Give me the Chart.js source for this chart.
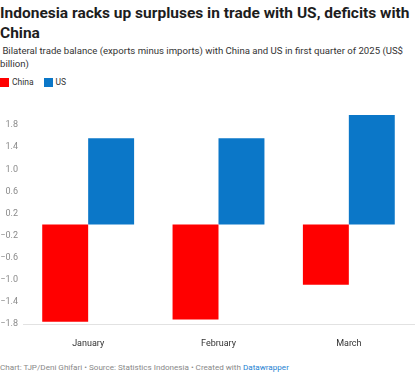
<!DOCTYPE html>
<html>
<head>
<meta charset="utf-8">
<script src="https://cdn.jsdelivr.net/npm/chart.js@4/dist/chart.umd.min.js"></script>
<style>
  body { margin: 0; width: 415px; height: 373px; background: #fff; font-family: Roboto, sans-serif; position: relative; overflow: hidden; }
  h1 { position: absolute; left: 0; top: 3px; margin: 0; width: 415px; font-size: 15.5px; line-height: 20px; font-weight: 700; color: #1d1d1d; }
  .sub { position: absolute; left: 0; top: 44px; width: 415px; font-size: 9.6px; line-height: 13px; color: #333; }
  .legend { position: absolute; left: 0; top: 77px; font-size: 8.5px; color: #333; display: flex; align-items: center; }
  .legend span.box { display: inline-block; width: 9px; height: 9px; margin-right: 3px; }
  .legend span.item { margin-right: 10px; display: flex; align-items: center; }
  #wrap { position: absolute; left: 0; top: 100px; width: 415px; height: 260px; }
  .foot { position: absolute; left: 0; top: 362px; font-size: 8.1px; color: #888; white-space: nowrap; }
  .foot a { color: #1d81d2; text-decoration: none; }
</style>
</head>
<body>
<h1>Indonesia racks up surpluses in trade with US, deficits with China</h1>
<div class="sub">&nbsp;Bilateral trade balance (exports minus imports) with China and US in first quarter of 2025 (US$ billion)</div>
<div class="legend">
  <span class="item"><span class="box" style="background:#ff0000"></span>China</span>
  <span class="item"><span class="box" style="background:#0b77c8"></span>US</span>
</div>
<div id="wrap"><canvas id="chart"></canvas></div>
<div class="foot">Chart: TJP/Deni Ghifari • Source: Statistics Indonesia • Created with <a>Datawrapper</a></div>
<script>
// Data
const months = ['January', 'February', 'March'];
const china = [-1.76, -1.72, -1.09];
const us = [1.56, 1.56, 1.98];
const yTicks = [-1.8, -1.4, -1.0, -0.6, -0.2, 0.2, 0.6, 1.0, 1.4, 1.8];

const ctx = document.getElementById('chart').getContext('2d');
new Chart(ctx, {
    type: 'bar',
    data: {
        labels: months,
        datasets: [
            { label: 'China', data: china, backgroundColor: '#ff0000' },
            { label: 'US', data: us, backgroundColor: '#0b77c8' }
        ]
    },
    options: {
        responsive: true,
        maintainAspectRatio: false,
        animation: false,
        categoryPercentage: 0.705,
        barPercentage: 1,
        layout: { padding: { top: 14, right: 1, left: 0, bottom: 0 } },
        plugins: { legend: { display: false }, tooltip: { enabled: false } },
        scales: {
            x: {
                grid: { display: false, drawTicks: false },
                border: { display: true, color: '#e2e2e2', width: 1 },
                ticks: { color: '#333', font: { family: 'Roboto', size: 9 }, padding: 14 },
                afterFit: (scale) => { scale.height = 36; }
            },
            y: {
                min: -1.8,
                max: 2.0,
                grid: { display: false, drawTicks: false },
                border: { display: false },
                afterBuildTicks: (scale) => { scale.ticks = yTicks.map(v => ({ value: v })); },
                afterFit: (scale) => { scale.width = 23; },
                ticks: {
                    color: '#8a8a8a',
                    font: { family: 'Roboto', size: 9 },
                    padding: 5,
                    callback: (v) => v.toFixed(1).replace('-', '\u2212')
                }
            }
        }
    }
});
</script>
</body>
</html>
